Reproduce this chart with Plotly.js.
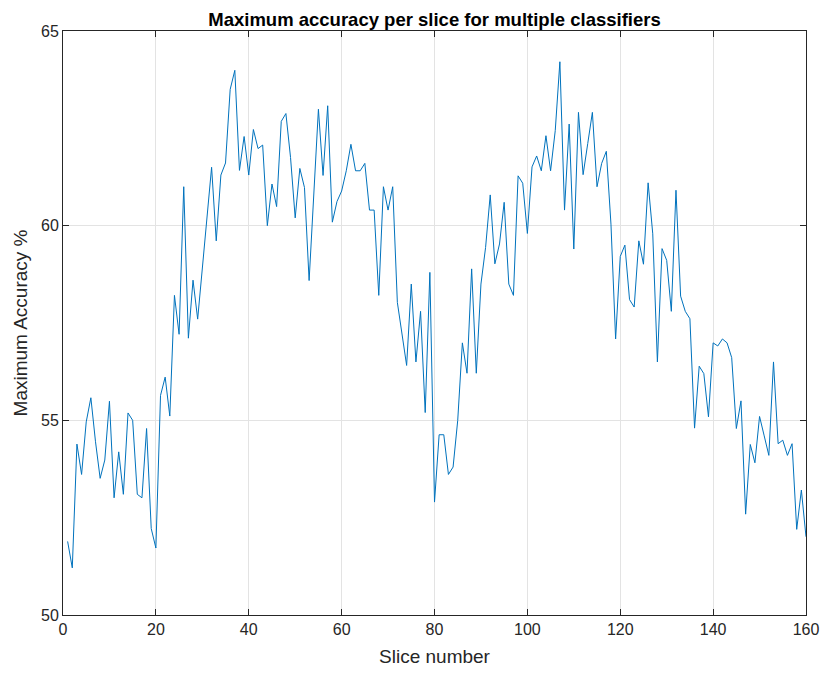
<!DOCTYPE html>
<html>
<head>
<meta charset="utf-8">
<script src="https://cdn.plot.ly/plotly-3.0.1.min.js"></script>
<style>html,body{margin:0;padding:0;background:#fff;}#chart{width:820px;height:673px;}</style>
</head>
<body>
<div id="chart"></div>
<script>
const sliceNumbers = Array.from({length: 160}, (_, i) => i + 1);
const maxAccuracy = [
  51.89, 51.21, 54.39, 53.61, 54.96, 55.58, 54.45, 53.51, 53.98, 55.49,
  53.01, 54.19, 53.10, 55.19, 55.00, 53.10, 53.01, 54.79, 52.22, 51.72,
  55.64, 56.11, 55.11, 58.21, 57.21, 61.00, 57.11, 58.60, 57.60, 58.90,
  60.20, 61.50, 59.61, 61.30, 61.61, 63.50, 63.99, 61.42, 62.29, 61.30,
  62.47, 61.98, 62.07, 60.00, 61.07, 60.49, 62.68, 62.88, 61.75, 60.20,
  61.47, 60.98, 58.59, 60.79, 62.99, 61.29, 63.08, 60.09, 60.62, 60.89,
  61.41, 62.09, 61.41, 61.41, 61.60, 60.40, 60.40, 58.21, 61.00, 60.40,
  61.00, 58.03, 57.22, 56.41, 58.50, 56.50, 57.80, 55.20, 58.80, 52.90,
  54.63, 54.63, 53.61, 53.80, 55.00, 56.99, 56.21, 58.89, 56.21, 58.50,
  59.44, 60.79, 59.02, 59.53, 60.60, 58.50, 58.21, 61.28, 61.09, 59.80,
  61.51, 61.79, 61.41, 62.31, 61.41, 62.44, 64.21, 60.40, 62.61, 59.40,
  62.91, 61.31, 62.11, 62.91, 61.00, 61.60, 61.91, 60.04, 57.09, 59.21,
  59.50, 58.10, 57.91, 59.61, 59.01, 61.10, 59.79, 56.50, 59.41, 59.11,
  57.80, 60.91, 58.19, 57.80, 57.61, 54.80, 56.39, 56.20, 55.09, 56.99,
  56.91, 57.09, 56.99, 56.61, 54.79, 55.50, 52.59, 54.38, 53.91, 55.10,
  54.60, 54.10, 56.50, 54.40, 54.49, 54.10, 54.40, 52.20, 53.21, 52.01
];
const xTicks = [0, 20, 40, 60, 80, 100, 120, 140, 160];
const yTicks = [50, 55, 60, 65];

const axisCommon = {
  showline: true, linecolor: '#262626', linewidth: 1, mirror: 'ticks',
  ticks: 'inside', ticklen: 6, tickcolor: '#262626', tickwidth: 1,
  showgrid: true, gridcolor: '#e3e3e3', gridwidth: 1, zeroline: false,
  tickfont: {family: 'Liberation Sans, Arial, sans-serif', size: 16, color: '#262626'}
};

const trace = {
  x: sliceNumbers, y: maxAccuracy, type: 'scatter', mode: 'lines',
  line: {color: '#0072BD', width: 1}, hoverinfo: 'x+y'
};

const layout = {
  width: 820, height: 673,
  margin: {l: 63, r: 14, t: 31, b: 58},
  paper_bgcolor: '#ffffff', plot_bgcolor: '#ffffff',
  showlegend: false,
  title: {
    text: '<b>Maximum accuracy per slice for multiple classifiers</b>',
    font: {family: 'Liberation Sans, Arial, sans-serif', size: 18.5, color: '#000'},
    x: 0.5, xanchor: 'center', xref: 'paper', y: 1, yref: 'paper', yanchor: 'bottom',
    pad: {b: 5}
  },
  xaxis: Object.assign({}, axisCommon, {
    range: [0, 160], tickvals: xTicks, ticktext: xTicks.map(String),
    title: {text: 'Slice number', font: {family: 'Liberation Sans, Arial, sans-serif', size: 19, color: '#262626'}, standoff: 12}
  }),
  yaxis: Object.assign({}, axisCommon, {
    range: [50, 65], tickvals: yTicks, ticktext: yTicks.map(String),
    title: {text: 'Maximum Accuracy %', font: {family: 'Liberation Sans, Arial, sans-serif', size: 19, color: '#262626'}, standoff: 8}
  })
};

Plotly.newPlot('chart', [trace], layout, {displayModeBar: false, staticPlot: true});
</script>
</body>
</html>
